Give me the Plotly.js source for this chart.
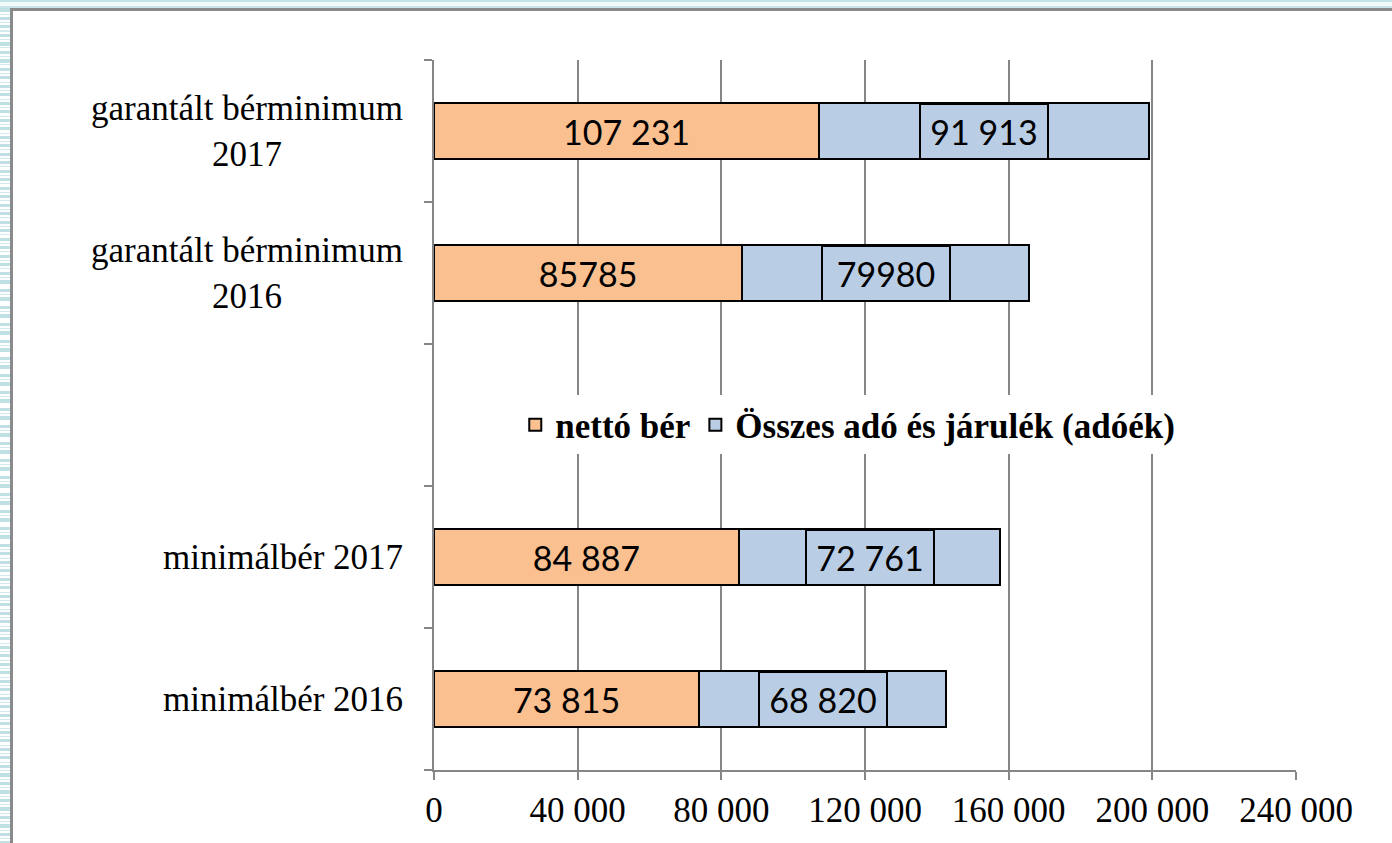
<!DOCTYPE html>
<html>
<head>
<meta charset="utf-8">
<script src="https://cdn.plot.ly/plotly-3.0.1.min.js"></script>
<style>
  html, body { margin: 0; padding: 0; background: #ffffff; }
  #wrap { position: relative; width: 1392px; height: 843px; overflow: hidden; background: #ffffff; }
  #leftStripes { position: absolute; left: 0; top: 0; width: 10px; height: 843px;
    background: repeating-linear-gradient(to bottom, #bfe1e4 0px, #bfe1e4 3px, #ffffff 3px, #ffffff 5px, #d2eaec 5px, #d2eaec 6px, #ffffff 6px, #ffffff 8.5px); }
  #topBand { position: absolute; left: 0; top: 0; width: 1392px; height: 8px;
    background: linear-gradient(to bottom, #c3e2e5 0px, #c3e2e5 2px, #f3fafa 2px, #f3fafa 6px, #c9e5e8 6px, #c9e5e8 8px); }
  #leftLine { position: absolute; left: 10px; top: 8px; width: 3px; height: 835px; background: #8a8a8a; }
  #topLine { position: absolute; left: 10px; top: 8px; width: 1382px; height: 3px; background: #8a8a8a; }
  #chart { position: absolute; left: 0; top: 0; width: 1392px; height: 843px; }
</style>
</head>
<body>
<div id="wrap">
  <div id="leftStripes"></div>
  <div id="topBand"></div>
  <div id="leftLine"></div>
  <div id="topLine"></div>
  <div id="chart"></div>
</div>
<script>
// Categories, bottom to top (the blank slot holds the legend)
const categories = ["minimálbér 2016", "minimálbér 2017", " ", "garantált bérminimum 2016", "garantált bérminimum 2017"];
const categoryLabels = ["minimálbér 2016", "minimálbér 2017", "", "garantált bérminimum<br>2016", "garantált bérminimum<br>2017"];
const seriesNames = ["nettó bér", "Összes adó és járulék (adóék)"];
const nettoBer = [73815, 84887, null, 85785, 107231];
const adoek = [68820, 72761, null, 79980, 91913];
const nettoLabels = ["73 815", "84 887", "", "85785", "107 231"];
const adoekLabels = ["68 820", "72 761", "", "79980", "91 913"];
const xTickVals = [0, 40000, 80000, 120000, 160000, 200000, 240000];

const orange = "#fac090";
const blue = "#b9cde5";
const gray = "#868686";

const traces = [
  {
    type: "bar", orientation: "h", name: seriesNames[0],
    y: categories, x: nettoBer,
    text: nettoLabels, textposition: "inside", insidetextanchor: "middle",
    textfont: { family: "Lato", size: 34, color: "#000000" },
    constraintext: "none",
    marker: { color: orange, line: { color: "#000000", width: 2 } },
    hoverinfo: "none"
  },
  {
    type: "bar", orientation: "h", name: seriesNames[1],
    y: categories, x: adoek,
    marker: { color: blue, line: { color: "#000000", width: 2 } },
    hoverinfo: "none"
  }
];

const annotations = [];
categories.forEach((c, i) => {
  if (categoryLabels[i]) {
    annotations.push({
      xref: "paper", yref: "y", x: 0, y: i, xshift: -29,
      xanchor: "right", yanchor: "middle", align: "center",
      text: categoryLabels[i], showarrow: false,
      font: { family: "Liberation Serif", size: 35, color: "#000000" }
    });
  }
  if (adoek[i] != null) {
    annotations.push({
      xref: "x", yref: "y", x: nettoBer[i] + adoek[i] / 2, y: i,
      xanchor: "center", yanchor: "middle",
      text: adoekLabels[i], showarrow: false,
      bgcolor: blue, bordercolor: "#000000", borderwidth: 2, borderpad: 1,
      width: 124, height: 51,
      font: { family: "Lato", size: 34, color: "#000000" }
    });
  }
});

const layout = {
  width: 1392, height: 843,
  margin: { l: 434, r: 96, t: 60, b: 73 },
  paper_bgcolor: "rgba(0,0,0,0)", plot_bgcolor: "rgba(0,0,0,0)",
  barmode: "stack", bargap: 0.6,
  separators: ", ",
  showlegend: true,
  legend: {
    orientation: "h", x: 0.48, xanchor: "center", y: 0.486, yanchor: "middle",
    bgcolor: "#ffffff", traceorder: "normal", itemwidth: 30,
    font: { family: "Liberation Serif, 'Times New Roman', serif", size: 35, color: "#000000", weight: 700 }
  },
  xaxis: {
    range: [0, 240000], tickvals: xTickVals, tickformat: ",d",
    showgrid: true, gridcolor: gray, gridwidth: 2,
    showline: true, linecolor: gray, linewidth: 2,
    ticks: "outside", ticklen: 8, tickwidth: 2, tickcolor: gray,
    zeroline: false,
    tickfont: { family: "Liberation Serif", size: 35, color: "#000000" },
    ticklabelstandoff: 0
  },
  yaxis: {
    type: "category", categoryorder: "array", categoryarray: categories,
    range: [-0.5, 4.5],
    tickson: "boundaries", ticks: "outside", ticklen: 8, tickwidth: 2, tickcolor: gray,
    showline: true, linecolor: gray, linewidth: 2,
    showgrid: false, zeroline: false, showticklabels: false
  },
  annotations: annotations
};

Plotly.newPlot("chart", traces, layout, { displayModeBar: false, staticPlot: true });
</script>
</body>
</html>
